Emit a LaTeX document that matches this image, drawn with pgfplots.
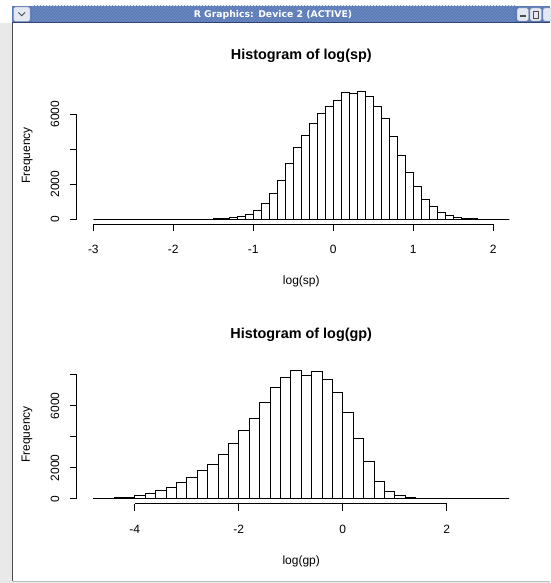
\documentclass[border=0pt]{standalone}
\usepackage{fontspec}
\setmainfont{Liberation Sans}
\newfontfamily\barfont{DejaVu Sans}
\usepackage{pgfplots}
\pgfplotsset{compat=1.18}
\usepackage{pgfplotstable}
\usetikzlibrary{patterns}

\definecolor{titlebar}{HTML}{5B7AB6}
\definecolor{titlehatch}{HTML}{7390C8}
\definecolor{titleedge}{HTML}{2E4372}
\definecolor{btnfill}{HTML}{E3E8F2}
\definecolor{btnedge}{HTML}{7F8DAA}
\definecolor{frameside}{HTML}{E9E9E9}
\definecolor{frameline}{HTML}{4A4A4A}

% counts per bin: left edge of the bin, frequency (width 0.1)
\pgfplotstableread{
left count
-3.0 0
-2.9 0
-2.8 0
-2.7 0
-2.6 0
-2.5 0
-2.4 0
-2.3 0
-2.2 0
-2.1 0
-2.0 0
-1.9 0
-1.8 0
-1.7 0
-1.6 15
-1.5 30
-1.4 50
-1.3 100
-1.2 190
-1.1 290
-1.0 510
-0.9 910
-0.8 1490
-0.7 2250
-0.6 3200
-0.5 4110
-0.4 4800
-0.3 5490
-0.2 6040
-0.1 6460
0.0 6780
0.1 7260
0.2 7180
0.3 7300
0.4 7050
0.5 6460
0.6 5770
0.7 4720
0.8 3660
0.9 2700
1.0 1870
1.1 1140
1.2 720
1.3 380
1.4 210
1.5 110
1.6 60
1.7 30
1.8 0
1.9 0
2.0 0
2.1 0
2.2 0
}\sptable

% counts per bin: left edge of the bin, frequency (width 0.2)
\pgfplotstableread{
left count
-4.8 0
-4.6 20
-4.4 60
-4.2 110
-4.0 215
-3.8 340
-3.6 540
-3.4 730
-3.2 1080
-3.0 1380
-2.8 1830
-2.6 2220
-2.4 2860
-2.2 3550
-2.0 4410
-1.8 5180
-1.6 6190
-1.4 7160
-1.2 7810
-1.0 8280
-0.8 7980
-0.6 8220
-0.4 7680
-0.2 6840
0.0 5590
0.2 3890
0.4 2430
0.6 1140
0.8 490
1.0 220
1.2 80
1.4 50
1.6 30
1.8 0
2.0 0
2.2 0
2.4 0
2.6 0
2.8 0
3.0 0
3.2 0
}\gptable

\pgfplotsset{
  rhist/.style={
    scale only axis,
    width=449.2pt,
    clip=false,
    axis x line*=bottom,
    axis y line*=left,
    x axis line style={draw=none},
    y axis line style={draw=none},
    tick align=outside,
    major tick length=7pt,
    every tick/.style={black, line width=0.75pt},
    tick label style={font={\fontsize{12}{14}\selectfont}},
    xticklabel style={anchor=base},
    xticklabel shift=22.6pt,
    yticklabel style={rotate=90, anchor=base},
    yticklabel shift=10.5pt,
    every axis title/.style={at={(0.5,1)}, anchor=base, yshift=26.4pt,
      font={\bfseries\fontsize{14.4}{17}\selectfont}},
    every axis x label/.style={at={(0.5,0)}, anchor=base, yshift=-60.6pt,
      font={\fontsize{12}{14}\selectfont}},
    every axis y label/.style={at={(0,0.5)}, xshift=-46.7pt, rotate=90, anchor=base,
      font={\fontsize{12}{14}\selectfont}},
    ylabel={Frequency},
  },
  rbars/.style={ybar interval, fill=white, draw=black, line width=0.75pt},
}

\begin{document}
\begin{tikzpicture}[x=1pt, y=1pt]
\useasboundingbox (0,0) rectangle (550,583);
% window frame
\fill[white] (0,0) rectangle (550,583);
\fill[frameside] (0,0) rectangle (12,560);
\fill[frameside] (12,0) rectangle (550,1.5);
\draw[frameline, line width=1pt] (12.5,1.5) -- (12.5,560);
\draw[black!25, line width=0.8pt] (12.5,1.8) -- (550,1.8);
% title bar
\fill[titlebar] (12,560) rectangle (550,577);
\fill[pattern=north east lines, pattern color=titlehatch] (32,560) rectangle (515,577);
\draw[titleedge, line width=0.8pt] (12,560.4) -- (550,560.4);
\draw[btnedge, fill=btnfill, rounded corners=1.5pt] (13.5,561.5) rectangle (30,576);
\draw[black!70, line width=0.9pt] (18.5,570.5) -- (21.75,567.2) -- (25,570.5);
\draw[btnedge, fill=btnfill, rounded corners=1.5pt] (517,562) rectangle (528.5,575);
\draw[black!70, line width=1.2pt] (520,567) -- (525.5,567);
\draw[btnedge, fill=btnfill, rounded corners=1.5pt] (530,562) rectangle (541.5,575);
\draw[black!70, line width=0.7pt] (533,565) rectangle (538.5,572);
\draw[btnedge, fill=btnfill, rounded corners=1.5pt] (543,562) rectangle (556,575);
\node[text=white, font={\barfont\bfseries\fontsize{9.3}{10}\selectfont}] at (273,568.5)
  {R Graphics: Device 2 (ACTIVE)};

% upper histogram
\begin{axis}[rhist,
  at={(76.7pt,358.6pt)}, anchor=south west,
  height=138.0pt,
  xmin=-3.208, xmax=2.408, ymin=-292, ymax=7592,
  xtick={-3,-2,-1,0,1,2}, xticklabels={-3,-2,-1,0,1,2},
  ytick={0,2000,4000,6000}, yticklabels={0,2000,,6000},
  title={Histogram of log(sp)},
  xlabel={log(sp)},
]
\addplot[rbars] table[x=left, y=count] {\sptable};
\draw[black, line width=0.75pt] (axis cs:-3,-292) -- (axis cs:2,-292);
\draw[black, line width=0.75pt] (axis cs:-3.208,0) -- (axis cs:-3.208,6000);
\end{axis}

% lower histogram
\begin{axis}[rhist,
  at={(76.6pt,79.2pt)}, anchor=south west,
  height=138.6pt,
  xmin=-5.12, xmax=3.52, ymin=-331.2, ymax=8611.2,
  xtick={-4,-2,0,2}, xticklabels={-4,-2,0,2},
  ytick={0,2000,4000,6000,8000}, yticklabels={0,2000,,6000,},
  title={Histogram of log(gp)},
  xlabel={log(gp)},
]
\addplot[rbars] table[x=left, y=count] {\gptable};
\draw[black, line width=0.75pt] (axis cs:-4,-331.2) -- (axis cs:2,-331.2);
\draw[black, line width=0.75pt] (axis cs:-5.12,0) -- (axis cs:-5.12,8000);
\end{axis}
\end{tikzpicture}
\end{document}
